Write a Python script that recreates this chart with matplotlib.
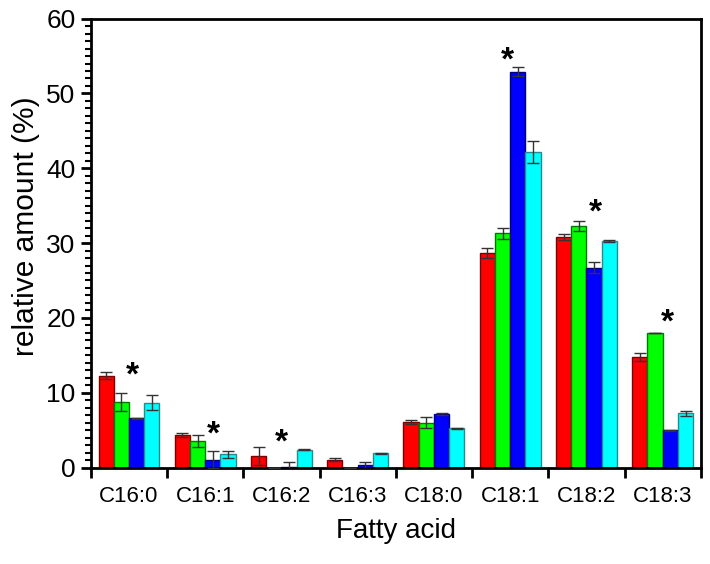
import matplotlib
matplotlib.use("Agg")
import matplotlib.pyplot as plt
from matplotlib.ticker import MultipleLocator
import numpy as np

plt.rcParams['font.family'] = ['Liberation Sans', 'DejaVu Sans']

# fatty acid categories
acids = ["C16:0", "C16:1", "C16:2", "C16:3", "C18:0", "C18:1", "C18:2", "C18:3"]

# series values (%) and errors
red = [12.27, 4.34, 1.6, 1.07, 6.08, 28.7, 30.76, 14.77]
red_err = [0.45, 0.3, 1.2, 0.25, 0.25, 0.7, 0.4, 0.5]
green = [8.79, 3.53, 0.0, 0.0, 6.0, 31.3, 32.27, 17.98]
green_err = [1.2, 0.8, 0.0, 0.0, 0.75, 0.73, 0.62, 0.05]
blue = [6.57, 1.07, 0.1, 0.3, 7.15, 52.9, 26.7, 4.97]
blue_err = [0.1, 1.1, 0.6, 0.5, 0.1, 0.6, 0.75, 0.1]
cyan = [8.66, 1.78, 2.4, 1.88, 5.23, 42.16, 30.3, 7.25]
cyan_err = [1.0, 0.45, 0.1, 0.1, 0.05, 1.45, 0.15, 0.3]

# significance stars: category index, height of star centre
star_idx = [0, 1, 2, 5, 6, 7]
star_y = [13.56, 5.68, 4.6, 55.6, 35.3, 20.6]
star_dx = [0.05, 0.11, 0.0, -0.03, 0.115, 0.06]

series = [(red, red_err, "#ff0000", "#7a0000"),
          (green, green_err, "#00ff00", "#007a00"),
          (blue, blue_err, "#0000ff", "#00007a"),
          (cyan, cyan_err, "#00ffff", "#2a8a8a")]

fig = plt.figure(figsize=(7.10, 5.64), dpi=100)
ax = fig.add_axes([0.128, 0.171, 0.859, 0.796])

x = np.arange(len(acids))
w = 0.2
for i, (vals, errs, fc, ec) in enumerate(series):
    pos = x + (i - 1.5) * w
    ax.bar(pos, vals, width=w, color=fc, edgecolor=ec, linewidth=1.0, zorder=2)
    ax.errorbar(pos, vals, yerr=errs, fmt="none", ecolor="#333333",
                elinewidth=1.0, capsize=4, capthick=1.0, zorder=3)

for idx, sy, dx in zip(star_idx, star_y, star_dx):
    ax.annotate("*", (x[idx] + dx, sy), xytext=(0, -13), textcoords="offset points",
                ha="center", va="baseline", fontsize=24, fontweight="bold",
                color="black")

ax.set_xlim(-0.5, 7.5)
ax.set_ylim(0, 60)

ax.set_xticks(np.arange(-0.5, 8.0, 1.0))
ax.set_xticklabels([])
ax.set_xticks(x, minor=True)
ax.set_xticklabels(acids, minor=True, fontsize=16)
ax.tick_params(axis="x", which="major", direction="out", length=7, width=2)
ax.tick_params(axis="x", which="minor", length=0, pad=13)

ax.yaxis.set_major_locator(MultipleLocator(10))
ax.yaxis.set_minor_locator(MultipleLocator(1))
ax.tick_params(axis="y", which="major", direction="out", length=7, width=2,
               labelsize=19, pad=4)
ax.tick_params(axis="y", which="minor", direction="out", length=4, width=1.5)

for s in ax.spines.values():
    s.set_linewidth(2)

ax.set_xlabel("Fatty acid", fontsize=20, labelpad=8)
ax.set_ylabel("relative amount (%)", fontsize=21.5)
ax.yaxis.set_label_coords(-0.084, 0.538)

fig.savefig("out.png", dpi=100)
